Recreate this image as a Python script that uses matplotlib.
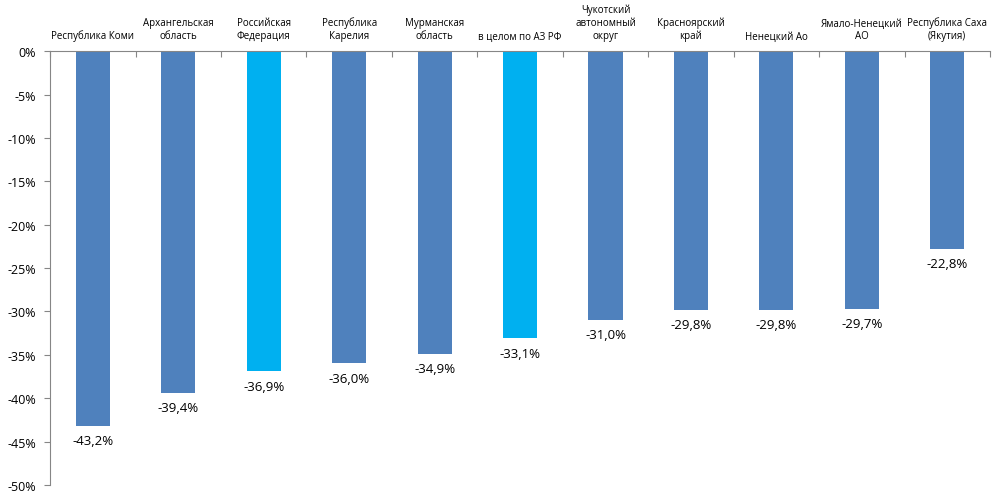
import matplotlib
matplotlib.use("Agg")
import matplotlib.pyplot as plt
import matplotlib.transforms as mtransforms
import numpy as np

regions = ["Республика Коми", "Архангельская\nобласть", "Российская\nФедерация",
           "Республика\nКарелия", "Мурманская\nобласть", "в целом по АЗ РФ",
           "Чукотский\nавтономный\nокруг", "Красноярский\nкрай", "Ненецкий Ао",
           "Ямало-Ненецкий\nАО", "Республика Саха\n(Якутия)"]
values = [-43.2, -39.4, -36.9, -36.0, -34.9, -33.1, -31.0, -29.8, -29.8, -29.7, -22.8]
highlight = [False, False, True, False, False, True, False, False, False, False, False]

plt.rcParams['font.family'] = ['Open Sans', 'DejaVu Sans']

fig = plt.figure(figsize=(10.04, 5.02), dpi=100)
ax = fig.add_axes([0.05, 0.032, 0.936, 0.864])

x = np.arange(len(values))
colors = ["#00B0F0" if h else "#4F81BD" for h in highlight]
ax.bar(x, values, width=0.4, color=colors, zorder=2)

ax.set_xlim(-0.5, len(values) - 0.5)
ax.set_ylim(-50, 0)
yt = np.arange(-50, 1, 5)
ax.set_yticks(yt)
ax.set_yticklabels([f"{v}%" for v in yt], fontsize=9)

# category labels above the zero line
trans = mtransforms.blended_transform_factory(ax.transData, ax.transAxes)
for xi, name in zip(x, regions):
    ax.annotate(name, (xi, 1), xycoords=trans, xytext=(0, 7), textcoords="offset points",
                ha="center", va="bottom", fontsize=7, linespacing=1.25, annotation_clip=False)

# value labels under each bar
for xi, v in zip(x, values):
    ax.annotate(f"{v:.1f}%".replace(".", ","), (xi, v), xytext=(0, -6), textcoords="offset points",
                ha="center", va="top", fontsize=9.5)

# x axis on the zero line with ticks at category borders
ax.xaxis.tick_top()
ax.set_xticks(np.arange(-0.5, len(values)), minor=False)
ax.set_xticklabels([])
ax.tick_params(axis="x", direction="in", length=4, color="#868686")
ax.tick_params(axis="y", direction="out", length=4, color="#868686", pad=6)

for side in ["right", "bottom"]:
    ax.spines[side].set_visible(False)
ax.spines["top"].set_color("#868686")
ax.spines["left"].set_color("#868686")

fig.savefig("out.png", dpi=100)
